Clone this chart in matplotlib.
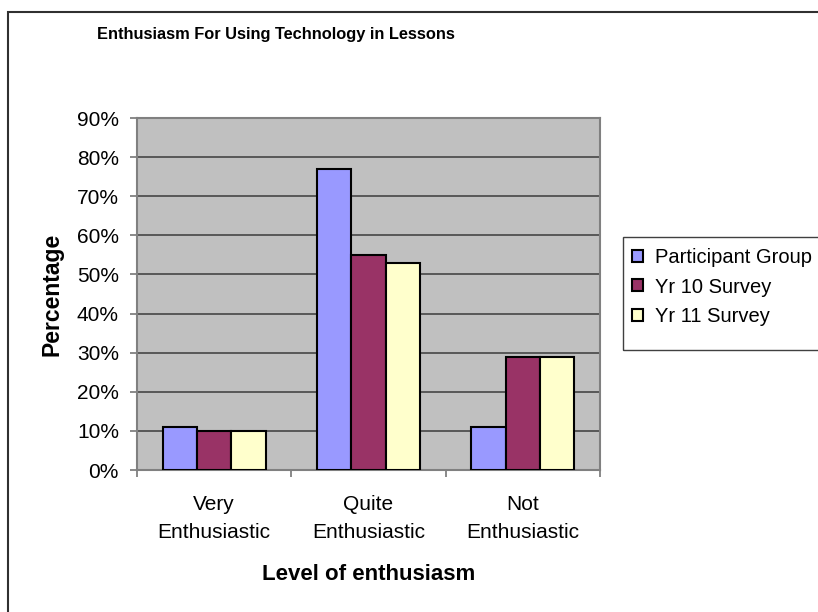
import numpy as np
import matplotlib
matplotlib.use("Agg")
import matplotlib.pyplot as plt
from matplotlib.patches import Rectangle
from matplotlib.ticker import FixedLocator, PercentFormatter

plt.rcParams["font.family"] = ["Liberation Sans", "DejaVu Sans"]

# survey results, percent of respondents
categories = ["Very\nEnthusiastic", "Quite\nEnthusiastic", "Not\nEnthusiastic"]
series_names = ["Participant Group", "Yr 10 Survey", "Yr 11 Survey"]
participant = [11, 77, 11]
yr10 = [10, 55, 29]
yr11 = [10, 53, 29]

colors = ["#9999FF", "#993366", "#FFFFCC"]

W, H = 818, 612
fig = plt.figure(figsize=(W / 100, H / 100), dpi=100)
ax = fig.add_axes([137 / W, 1 - 470 / H, 463 / W, 352 / H])
ax.set_facecolor("#C0C0C0")

x = np.arange(len(categories))
width = 1 / 4.5
for i, (vals, name) in enumerate(zip([participant, yr10, yr11], series_names)):
    ax.bar(x + (i - 1) * width, vals, width, color=colors[i],
           edgecolor="black", linewidth=1.5, label=name, zorder=3)

ax.set_xlim(-0.5, 2.5)
ax.set_ylim(0, 90)
ax.yaxis.set_major_locator(FixedLocator(np.arange(0, 91, 10)))
ax.yaxis.set_major_formatter(PercentFormatter(decimals=0))
ax.grid(axis="y", color="#505050", linewidth=1.3, zorder=1)

# category labels at centres, tick marks at the boundaries
ax.set_xticks(x)
ax.set_xticklabels(categories, fontsize=15, linespacing=1.6)
ax.set_xticks([-0.5, 0.5, 1.5, 2.5], minor=True)
ax.tick_params(axis="x", which="major", length=0, pad=18)
ax.tick_params(axis="x", which="minor", length=5, direction="out",
               color="#808080", width=1.3)
ax.tick_params(axis="y", length=5, direction="out", color="#808080",
               width=1.3, labelsize=15, pad=8)

for sp in ax.spines.values():
    sp.set_color("#808080")
    sp.set_linewidth(1.5)

ax.set_xlabel("Level of enthusiasm", fontsize=16, fontweight="bold", labelpad=16)
ax.set_ylabel("Percentage", fontsize=16.5, fontweight="bold", labelpad=10)

fig.text(0.337, 0.944, "Enthusiasm For Using Technology in Lessons",
         ha="center", va="center", fontsize=11.8, fontweight="bold")

# legend entries, with its box drawn separately
leg = fig.legend(loc="upper left", bbox_to_anchor=(623 / W, 1 - 239 / H),
                 fontsize=14.5, frameon=False, handlelength=0.55,
                 handleheight=0.55, handletextpad=0.6, labelspacing=0.52,
                 borderpad=0.45, borderaxespad=0)
for h in leg.legend_handles:
    h.set_linewidth(1.5)
fig.add_artist(Rectangle((623 / W, 1 - 350 / H), 0.5, 113 / H,
                         transform=fig.transFigure, fill=False,
                         edgecolor="#404040", linewidth=1.0))

# chart area border
fig.add_artist(Rectangle((8 / W, -0.1), 1.2, 1 - 12 / H + 0.1,
                         transform=fig.transFigure, fill=False,
                         edgecolor="#303030", linewidth=1.5))

fig.savefig("out.png", dpi=100)
